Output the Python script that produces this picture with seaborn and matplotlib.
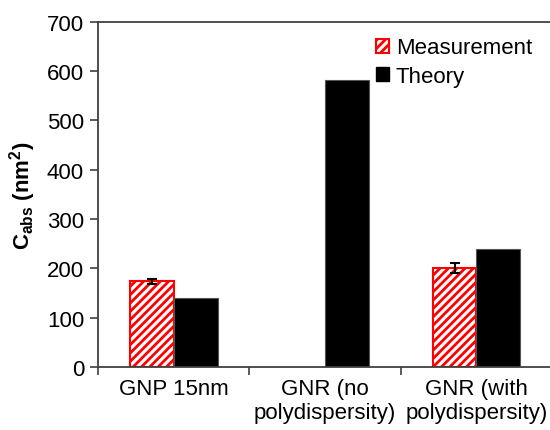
import matplotlib
matplotlib.use("Agg")
import matplotlib.pyplot as plt
import seaborn as sns
import pandas as pd
import numpy as np
from matplotlib.patches import Patch

categories = ["GNP 15nm", "GNR (no\npolydispersity)", "GNR (with\npolydispersity)"]
measurement = [174, np.nan, 201]
measurement_err = [5, np.nan, 10]
theory = [141, 582, 239]
series = ["Measurement", "Theory"]

df = pd.DataFrame({
    "category": categories * 2,
    "series": [series[0]] * 3 + [series[1]] * 3,
    "value": measurement + theory,
})

sns.set_theme(style="white")
plt.rcParams["font.family"] = ["Liberation Sans", "DejaVu Sans"]
plt.rcParams["mathtext.fontset"] = "custom"
plt.rcParams["mathtext.rm"] = "Liberation Sans"
plt.rcParams["mathtext.bf"] = "Liberation Sans:bold"
plt.rcParams["hatch.linewidth"] = 2.0
plt.rcParams["hatch.color"] = "red"
plt.rcParams["text.color"] = "black"
plt.rcParams["axes.labelcolor"] = "black"
plt.rcParams["xtick.color"] = "black"
plt.rcParams["ytick.color"] = "black"

fig = plt.figure(figsize=(5.5, 4.31), dpi=100)
ax = fig.add_axes([0.178, 0.146, 0.826, 0.801])

sns.barplot(data=df, x="category", y="value", hue="series", order=categories,
            hue_order=series, palette=["white", "black"], width=0.58,
            errorbar=None, legend=False, ax=ax)

meas_container, theo_container = ax.containers[0], ax.containers[1]
for p in meas_container:
    p.set_facecolor("white")
    p.set_edgecolor("red")
    p.set_hatch("////")
    p.set_linewidth(1.5)
for p in theo_container:
    p.set_facecolor("black")
    p.set_edgecolor("#555555")
    p.set_linewidth(0.8)

# error bars on measurement bars, matched by category position
for p in meas_container:
    xc = p.get_x() + p.get_width() / 2
    idx = int(round(xc))
    v, e = measurement[idx], measurement_err[idx]
    if np.isnan(v):
        continue
    ax.errorbar(xc, v, yerr=e, fmt="none", ecolor="black", elinewidth=1.5,
                capsize=3.5, capthick=1.5, zorder=5)

ax.set_ylim(0, 700)
ax.set_xlim(-0.5, 2.5)
ax.set_yticks(range(0, 701, 100))
ax.tick_params(axis="y", labelsize=16, length=6, width=1.2, color="#404040",
               direction="out", left=True, pad=4)
ax.tick_params(axis="x", which="major", labelsize=16, length=0, pad=8)
ax.set_xticks([-0.5, 0.5, 1.5], minor=True)
ax.tick_params(axis="x", which="minor", length=6, width=1.2, color="#404040",
               direction="out", bottom=True)
for lbl in ax.get_xticklabels():
    lbl.set_multialignment("center")

ax.set_xlabel("")
ax.set_ylabel(r"$\mathbf{C}_{\mathbf{abs}}$ (nm$^{\mathbf{2}}$)", fontsize=16,
              fontweight="bold", labelpad=6)

for side in ["left", "bottom", "top", "right"]:
    ax.spines[side].set_visible(True)
    ax.spines[side].set_color("#404040")
    ax.spines[side].set_linewidth(1.3)

handles = [
    Patch(facecolor="white", edgecolor="red", hatch="////", linewidth=1.5, label="Measurement"),
    Patch(facecolor="black", edgecolor="black", label="Theory"),
]
ax.legend(handles=handles, loc="upper right", bbox_to_anchor=(0.99, 1.0),
          frameon=False, fontsize=16, handlelength=0.6, handleheight=0.6,
          handletextpad=0.3, labelspacing=0.35, borderaxespad=0.3)

fig.savefig("out.png", dpi=100)
